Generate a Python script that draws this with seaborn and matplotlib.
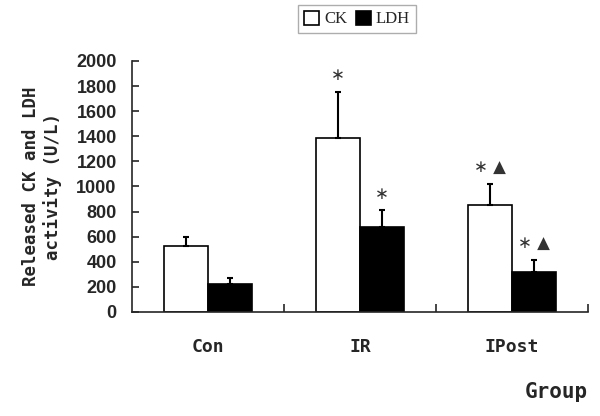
import numpy as np
import pandas as pd
import matplotlib
matplotlib.use("Agg")
import matplotlib.pyplot as plt
import seaborn as sns

groups = ["Con", "IR", "IPost"]
enzymes = ["CK", "LDH"]
ck_mean = [525, 1390, 855]
ck_sd = [75, 365, 165]
ldh_mean = [225, 680, 320]
ldh_sd = [45, 130, 95]
ck_marks = ["", "∗", "∗ ▲"]
ldh_marks = ["", "∗", "∗ ▲"]
yticks = list(range(0, 2001, 200))

df = pd.DataFrame({
    "group": groups * 2,
    "enzyme": ["CK"] * 3 + ["LDH"] * 3,
    "value": ck_mean + ldh_mean,
})

sns.set_style("ticks")
fig = plt.figure(figsize=(6, 4.16), dpi=100)
ax = fig.add_axes([0.22, 0.25, 0.76, 0.6034])

sns.barplot(data=df, x="group", y="value", hue="enzyme", order=groups,
            hue_order=enzymes, palette={"CK": "white", "LDH": "black"},
            edgecolor="black", linewidth=1.2, width=0.58, gap=0,
            errorbar=None, ax=ax)

sds = {"CK": ck_sd, "LDH": ldh_sd}
marks = {"CK": ck_marks, "LDH": ldh_marks}
for cont, enz in zip(ax.containers, enzymes):
    for bar, sd, mk in zip(cont, sds[enz], marks[enz]):
        x = bar.get_x() + bar.get_width() / 2
        h = bar.get_height()
        ax.errorbar(x, h, yerr=[[0], [sd]], color="black", capsize=2.5,
                    elinewidth=1.5, capthick=1.5)
        if mk:
            ax.text(x, h + sd + 130, mk, ha="center", va="center",
                    fontsize=12, color="#333333", family="DejaVu Sans")

ax.set_xlim(-0.5, 2.5)
ax.set_ylim(0, 2000)
ax.set_yticks(yticks)
ax.set_yticklabels([str(t) for t in yticks], fontsize=13, fontweight="bold",
                   family="Liberation Sans")
ax.tick_params(axis="y", direction="in", length=5, width=1.2, pad=11)

ax.set_xticks(range(len(groups)))
ax.set_xticklabels(groups, fontsize=13, fontweight="bold",
                   family="DejaVu Sans Mono")
ax.set_xticks([0.5, 1.5, 2.5], minor=True)
ax.tick_params(axis="x", which="major", length=0, pad=19)
ax.tick_params(axis="x", which="minor", direction="in", length=6, width=1.2)

ax.set_xlabel("")
ax.set_ylabel("Released CK and LDH\nactivity (U/L)", fontsize=12.5,
              fontweight="bold", family="DejaVu Sans Mono", labelpad=10)

for s in ["top", "right"]:
    ax.spines[s].set_visible(False)
for s in ["left", "bottom"]:
    ax.spines[s].set_linewidth(1.2)

fig.text(0.98, 0.057, "Group", ha="right", va="center", fontsize=15,
         fontweight="bold", family="DejaVu Sans Mono")

handles, labels = ax.get_legend_handles_labels()
ax.get_legend().remove()
leg = fig.legend(handles, labels, loc="center", bbox_to_anchor=(0.595, 0.954),
                 ncol=2, frameon=True, fancybox=False, handlelength=0.9,
                 handleheight=0.9, handletextpad=0.3, columnspacing=0.5,
                 borderpad=0.35, prop={"family": "Liberation Serif", "size": 12})
leg.get_frame().set_edgecolor("#999999")
leg.get_frame().set_linewidth(1.0)

fig.savefig("out.png", dpi=100)
